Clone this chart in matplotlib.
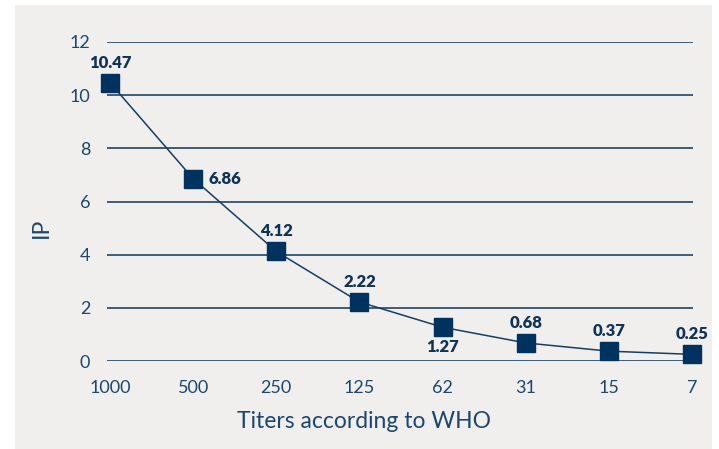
import matplotlib
matplotlib.use('Agg')
import matplotlib.pyplot as plt
from matplotlib.patches import Rectangle

# data
titers = ['1000', '500', '250', '125', '62', '31', '15', '7']
ip_values = [10.47, 6.86, 4.12, 2.22, 1.27, 0.68, 0.37, 0.25]
# where each value label sits relative to its marker
label_side = ['above', 'right', 'above', 'above', 'below', 'above', 'above', 'above']

NAVY = '#00325f'
TEXT = '#1c4670'
GRID = '#1d4468'

plt.rcParams['font.family'] = ['Lato', 'DejaVu Sans']

W, H = 719, 449
fig = plt.figure(figsize=(W / 100, H / 100), dpi=100, facecolor='white')

# grey panel behind the chart
fig.patches.append(Rectangle((15 / W, 0), (712 - 15) / W, (449 - 5) / H,
                             transform=fig.transFigure, facecolor='#f0efee',
                             edgecolor='none', zorder=-5))

ax = fig.add_axes([107 / W, (H - 361) / H, 586 / W, (361 - 42) / H])
ax.set_zorder(1)
ax.set_facecolor('none')

x = list(range(len(titers)))
ax.plot(x, ip_values, '-', color='#163d63', linewidth=1.1, zorder=3, clip_on=False)
ax.plot(x, ip_values, 's', color=NAVY, markersize=13, zorder=4, clip_on=False)

offsets = {'above': (0, 14.5, 'center', 'center'),
           'below': (0, -14.5, 'center', 'center'),
           'right': (11, 0, 'left', 'center')}
for xi, v, side in zip(x, ip_values, label_side):
    dx, dy, ha, va = offsets[side]
    ax.annotate(f'{v:.2f}', (xi, v), xytext=(dx, dy), textcoords='offset points',
                ha=ha, va=va, fontsize=12, fontweight='heavy', color='#0f3358',
                zorder=5)

ax.set_xlim(-0.036, 7.012)
ax.set_ylim(0, 12)
ax.set_yticks(range(0, 13, 2))
ax.set_xticks(x)
ax.set_xticklabels(titers)
ax.yaxis.grid(True, color=GRID, linewidth=1.2)
ax.set_axisbelow(True)
for s in ax.spines.values():
    s.set_visible(False)
ax.tick_params(axis='both', length=0, labelsize=13, labelcolor=TEXT)
ax.tick_params(axis='x', pad=14)
ax.tick_params(axis='y', pad=12)

fig.text(364 / W, 1 - 422 / H, 'Titers according to WHO', ha='center', va='center',
         fontsize=16.5, color=TEXT)
fig.text(41 / W, 1 - 228 / H, 'IP', ha='center', va='center', rotation=90,
         fontsize=16.5, color=TEXT)

plt.savefig('out.png', dpi=100, facecolor=fig.get_facecolor())
